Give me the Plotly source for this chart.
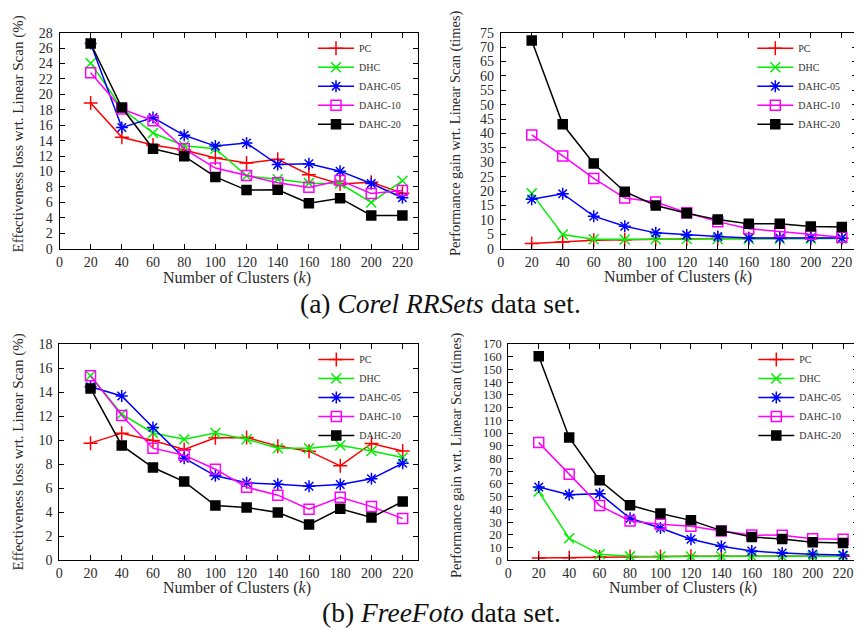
import plotly.graph_objects as go

# ---------------- data ----------------
clusters = [20, 40, 60, 80, 100, 120, 140, 160, 180, 200, 220]
series_names = ["PC", "DHC", "DAHC-05", "DAHC-10", "DAHC-20"]

corel_loss_pc = [18.9, 14.45, 13.45, 12.8, 11.75, 11.1, 11.6, 9.6, 8.4, 8.6, 7.2]
corel_loss_dhc = [24.05, 18.2, 15.0, 13.35, 12.95, 9.45, 9.0, 8.5, 8.45, 6.0, 8.8]
corel_loss_d05 = [26.6, 15.7, 17.0, 14.7, 13.3, 13.7, 10.9, 11.0, 10.05, 8.45, 6.6]
corel_loss_d10 = [22.8, 18.1, 16.6, 12.95, 10.45, 9.5, 8.55, 7.95, 8.85, 7.15, 7.55]
corel_loss_d20 = [26.6, 18.3, 12.95, 12.0, 9.3, 7.6, 7.65, 5.9, 6.55, 4.3, 4.3]

corel_gain_pc = [1.8, 2.35, 2.9, 3.1, 3.3, 3.4, 3.5, 3.5, 3.5, 3.5, 3.6]
corel_gain_dhc = [19.2, 4.9, 3.3, 3.2, 3.3, 3.4, 3.4, 3.4, 3.4, 3.5, 3.5]
corel_gain_d05 = [17.2, 19.1, 11.3, 7.8, 5.5, 4.8, 4.2, 3.7, 3.7, 3.7, 3.7]
corel_gain_d10 = [39.5, 32.2, 24.4, 17.6, 16.2, 12.5, 9.4, 6.9, 6.0, 5.0, 4.0]
corel_gain_d20 = [72.3, 43.2, 29.6, 19.8, 15.0, 12.3, 10.1, 8.7, 8.7, 7.7, 7.5]

free_loss_pc = [9.75, 10.58, 9.97, 9.22, 10.2, 10.22, 9.5, 9.08, 7.86, 9.72, 9.1]
free_loss_dhc = [15.35, 12.17, 10.6, 10.08, 10.6, 10.08, 9.33, 9.33, 9.58, 9.1, 8.55]
free_loss_d05 = [14.45, 13.67, 11.05, 8.5, 7.03, 6.45, 6.33, 6.17, 6.3, 6.78, 8.08]
free_loss_d10 = [15.35, 12.05, 9.33, 8.75, 7.58, 6.08, 5.42, 4.25, 5.25, 4.47, 3.47]
free_loss_d20 = [14.3, 9.56, 7.72, 6.55, 4.56, 4.4, 3.97, 2.97, 4.28, 3.56, 4.89]

free_gain_pc = [1.8, 2.1, 2.6, 2.9, 2.9, 3.1, 3.1, 3.1, 3.1, 3.1, 3.1]
free_gain_dhc = [54.0, 17.3, 4.7, 3.1, 3.0, 3.0, 3.0, 3.0, 3.0, 3.1, 3.2]
free_gain_d05 = [57.6, 51.6, 52.4, 33.0, 25.4, 16.5, 11.0, 7.3, 5.8, 4.7, 4.2]
free_gain_d10 = [92.5, 67.6, 43.0, 30.9, 28.3, 26.7, 23.0, 19.9, 19.6, 17.0, 16.5]
free_gain_d20 = [160.3, 96.6, 62.9, 43.2, 36.7, 31.4, 23.3, 18.3, 16.8, 14.1, 13.6]

x_title = "Number of Clusters (<i>k</i>)"
loss_title = "Effectiveness loss wrt. Linear Scan (%)"
gain_title = "Performance gain wrt. Linear Scan (times)"
caption_a = "(a) <i>Corel RRSets</i> data set."
caption_b = "(b) <i>FreeFoto</i> data set."

# ---------------- style / layout ----------------
# The page body adds an 8px margin; the figure is sized to fill the rest of the window.
OFF = 8
W, H = 862 - OFF, 629 - OFF


def fx(X):
    return (X - OFF) / W


def fy(Y):
    return 1 - (Y - OFF) / H


FONT = "Liberation Serif"
TXT = "#2a2a2a"
colors = ["#ff0000", "#00ee00", "#0000ff", "#ff00ff", "#000000"]
symbols = ["cross-thin", "x-thin", "asterisk", "square-open", "square"]
sizes = [10, 10, 10, 10, 9]

panels = [
    dict(data=[corel_loss_pc, corel_loss_dhc, corel_loss_d05, corel_loss_d10, corel_loss_d20],
         px=(59.5, 418.0), py=(32.7, 248.7), yr=(0, 28), dt=2, ytitle=loss_title,
         yt=(17.5, 134), ys=15.0, xt=(237, 278), ytf=14),
    dict(data=[corel_gain_pc, corel_gain_dhc, corel_gain_d05, corel_gain_d10, corel_gain_d20],
         px=(500.7, 857.3), py=(32.7, 248.7), yr=(0, 75), dt=5, ytitle=gain_title,
         yt=(455, 133), ys=14.4, xt=(678, 277), ytf=14),
    dict(data=[free_loss_pc, free_loss_dhc, free_loss_d05, free_loss_d10, free_loss_d20],
         px=(59.3, 418.3), py=(344.0, 560.3), yr=(0, 18), dt=2, ytitle=loss_title,
         yt=(17.5, 452), ys=15.0, xt=(237, 588), ytf=14),
    dict(data=[free_gain_pc, free_gain_dhc, free_gain_d05, free_gain_d10, free_gain_d20],
         px=(508.3, 858.3), py=(344.0, 560.3), yr=(0, 170), dt=10, ytitle=gain_title,
         yt=(456, 455), ys=14.4, xt=(683, 588), ytf=12.5),
]

fig = go.Figure()
layout = dict(
    width=W, height=H,
    margin=dict(l=0, r=0, t=0, b=0, autoexpand=False),
    paper_bgcolor="white", plot_bgcolor="white",
    font=dict(family=FONT, color=TXT, size=14),
)
annotations = []

for i, p in enumerate(panels):
    n = "" if i == 0 else str(i + 1)
    xa, ya = "x" + n, "y" + n
    lg = "legend" + n
    for j, name in enumerate(series_names):
        c = colors[j]
        fig.add_trace(go.Scatter(
            x=clusters, y=p["data"][j], name=name, mode="lines+markers",
            xaxis=xa, yaxis=ya, legend=lg,
            line=dict(color=c, width=1.5),
            marker=dict(symbol=symbols[j], size=sizes[j], color=c,
                        line=dict(color=c, width=1.5)),
        ))
    x0, x1 = p["px"]
    y0, y1 = p["py"]
    axis_common = dict(
        showgrid=False, zeroline=False, showline=True, linecolor="black", linewidth=1,
        mirror="ticks", ticks="inside", ticklen=5, tickcolor="black", automargin=False,
    )
    layout["xaxis" + n] = dict(
        axis_common, domain=[fx(x0), fx(x1)], anchor=ya, range=[0, 230],
        tick0=0, dtick=20, ticklabelstandoff=0,
        tickfont=dict(family=FONT, size=14, color=TXT),
    )
    layout["yaxis" + n] = dict(
        axis_common, domain=[fy(y1), fy(y0)], anchor=xa, range=list(p["yr"]),
        tick0=0, dtick=p["dt"], ticklabelstandoff=3,
        tickfont=dict(family=FONT, size=p["ytf"], color=TXT),
    )
    layout[lg] = dict(
        x=fx(x1 - 12), y=fy(y0 + 1), xanchor="right", yanchor="top",
        bgcolor="rgba(255,255,255,0)", borderwidth=0,
        font=dict(family=FONT, size=10, color="#333"),
        itemwidth=36, tracegroupgap=0,
    )
    annotations.append(dict(
        text=p["ytitle"], x=fx(p["yt"][0]), y=fy(p["yt"][1]), xref="paper", yref="paper",
        showarrow=False, xanchor="center", yanchor="middle", textangle=-90,
        font=dict(family=FONT, size=p["ys"], color=TXT)))
    annotations.append(dict(
        text=x_title, x=fx(p["xt"][0]), y=fy(p["xt"][1]), xref="paper", yref="paper",
        showarrow=False, xanchor="center", yanchor="middle",
        font=dict(family=FONT, size=16, color=TXT)))

annotations += [
    dict(text=caption_a, x=fx(440), y=fy(303), xref="paper", yref="paper",
         showarrow=False, xanchor="center", yanchor="middle",
         font=dict(family=FONT, size=27.5, color="#111")),
    dict(text=caption_b, x=fx(441), y=fy(612), xref="paper", yref="paper",
         showarrow=False, xanchor="center", yanchor="middle",
         font=dict(family=FONT, size=27.5, color="#111")),
]
layout["annotations"] = annotations

fig.update_layout(**layout)
fig.write_html("out.html")
